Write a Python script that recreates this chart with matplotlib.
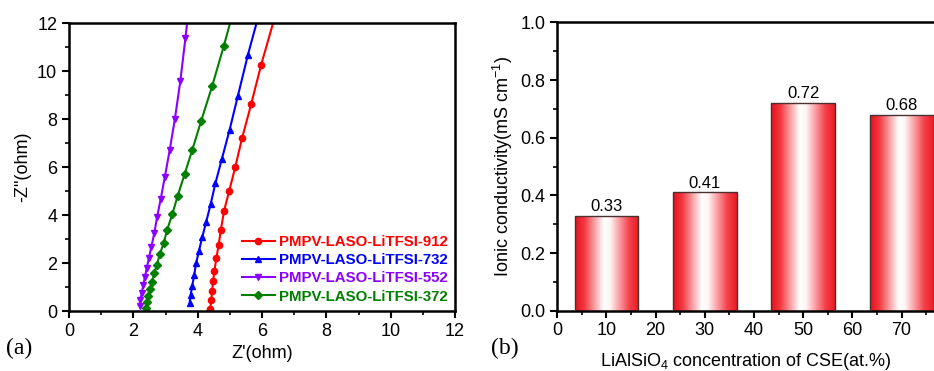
import numpy as np
import matplotlib
matplotlib.use("Agg")
import matplotlib.pyplot as plt
from matplotlib.colors import LinearSegmentedColormap

plt.rcParams['font.family'] = ['Liberation Sans', 'DejaVu Sans']
plt.rcParams['mathtext.fontset'] = 'custom'
plt.rcParams['mathtext.rm'] = 'Liberation Sans'

# (a) Nyquist data
red_x = [4.39, 4.42, 4.45, 4.48, 4.52, 4.58, 4.65, 4.72, 4.82, 4.98, 5.17, 5.38, 5.66, 5.97, 6.45]
red_y = [0.07, 0.46, 0.85, 1.26, 1.68, 2.19, 2.75, 3.38, 4.18, 5.01, 6.01, 7.21, 8.61, 10.25, 12.5]
blue_x = [3.75, 3.78, 3.83, 3.89, 3.95, 4.04, 4.14, 4.26, 4.40, 4.55, 4.75, 4.99, 5.25, 5.56, 5.95]
blue_y = [0.32, 0.67, 1.04, 1.50, 1.99, 2.51, 3.07, 3.69, 4.44, 5.32, 6.33, 7.54, 8.97, 10.67, 12.6]
purple_x = [2.22, 2.22, 2.26, 2.31, 2.36, 2.42, 2.48, 2.56, 2.65, 2.74, 2.85, 2.98, 3.13, 3.29, 3.46, 3.62, 3.78]
purple_y = [0.21, 0.46, 0.76, 1.07, 1.43, 1.81, 2.19, 2.68, 3.24, 3.93, 4.67, 5.60, 6.71, 8.00, 9.58, 11.39, 13.3]
green_x = [2.40, 2.43, 2.47, 2.52, 2.58, 2.65, 2.73, 2.82, 2.94, 3.05, 3.21, 3.38, 3.59, 3.83, 4.11, 4.45, 4.81, 5.15]
green_y = [0.11, 0.36, 0.64, 0.92, 1.22, 1.57, 1.92, 2.36, 2.82, 3.38, 4.03, 4.81, 5.69, 6.71, 7.93, 9.375, 11.04, 12.7]
labels_a = ['PMPV-LASO-LiTFSI-912', 'PMPV-LASO-LiTFSI-732',
            'PMPV-LASO-LiTFSI-552', 'PMPV-LASO-LiTFSI-372']

# (b) conductivity data
conc = [10, 30, 50, 70]
cond = [0.33, 0.41, 0.72, 0.68]
cond_labels = ['0.33', '0.41', '0.72', '0.68']

fig = plt.figure(figsize=(9.34, 3.71), dpi=100)

# ---- panel (a)
ax1 = fig.add_axes([0.0739, 0.1617, 0.4133, 0.776])
series = [(red_x, red_y, '#ff0000', 'o'), (blue_x, blue_y, '#0000ff', '^'),
          (purple_x, purple_y, '#8b00ff', 'v'), (green_x, green_y, '#007f00', 'D')]
for (x, y, c, m), lab in zip(series, labels_a):
    ms = 4.5 if m != 'D' else 3.8
    ax1.plot(x, y, color=c, marker=m, markersize=ms, linewidth=1.5, label=lab)
ax1.set_xlim(0, 12)
ax1.set_ylim(0, 12)
ax1.set_xticks(np.arange(0, 13, 2))
ax1.set_yticks(np.arange(0, 13, 2))
ax1.set_xticks(np.arange(0, 13, 1), minor=True)
ax1.set_yticks(np.arange(0, 13, 1), minor=True)
ax1.tick_params(which='major', direction='out', length=5, width=1.5, labelsize=13)
ax1.tick_params(which='minor', direction='out', length=3, width=1.2)
for s in ax1.spines.values():
    s.set_linewidth(1.8)
ax1.set_xlabel("Z'(ohm)", fontsize=13, labelpad=4)
ax1.set_ylabel('-Z"(ohm)', fontsize=13, labelpad=4)
leg = ax1.legend(loc='lower right', frameon=False, handlelength=2.2,
                 labelspacing=0.28, handletextpad=0.25, borderaxespad=0.1,
                 prop={'weight': 'bold', 'size': 10.8})
for t, (_, _, c, _) in zip(leg.get_texts(), series):
    t.set_color(c)
fig.text(0.006, 0.045, '(a)', fontsize=17, family='Liberation Serif')

# ---- panel (b)
ax2 = fig.add_axes([0.5967, 0.1626, 0.4033, 0.777])
cmap = LinearSegmentedColormap.from_list('rw', [(0, '#e8101a'), (0.15, '#f23a42'), (0.45, '#ffffff'),
                                                (0.55, '#fff4f4'), (0.85, '#f5404a'), (1, '#ea1a22')])
grad = np.linspace(0, 1, 256).reshape(1, -1)
bars = ax2.bar(conc, cond, width=13, facecolor='none', edgecolor='#4a3030', linewidth=1.0, zorder=3)
for b in bars:
    x0, y0 = b.get_x(), b.get_y()
    im = ax2.imshow(grad, cmap=cmap, extent=[x0, x0 + b.get_width(), y0, y0 + b.get_height()],
                    aspect='auto', zorder=2)
    im.set_clip_path(b)
for xc, v, lab in zip(conc, cond, cond_labels):
    ax2.text(xc, v + 0.006, lab, ha='center', va='bottom', fontsize=12)
ax2.set_xlim(0, 76.6)
ax2.set_ylim(0, 1.0)
ax2.set_xticks(np.arange(0, 71, 10))
ax2.set_xticks(np.arange(5, 76, 10), minor=True)
ax2.set_yticks(np.arange(0, 1.01, 0.2))
ax2.set_yticks(np.arange(0, 1.01, 0.1), minor=True)
ax2.yaxis.set_major_formatter(matplotlib.ticker.FormatStrFormatter('%.1f'))
ax2.tick_params(which='major', direction='out', length=5, width=1.5, labelsize=13)
ax2.tick_params(which='minor', direction='out', length=3, width=1.2)
for s in ax2.spines.values():
    s.set_linewidth(1.8)
ax2.spines['right'].set_visible(False)
ax2.set_xlabel('LiAlSiO$_4$ concentration of CSE(at.%)', fontsize=13, labelpad=8)
ax2.set_ylabel('Ionic conductivity(mS cm$^{-1}$)', fontsize=13, labelpad=4)
fig.text(0.526, 0.045, '(b)', fontsize=17, family='Liberation Serif')

fig.savefig('out.png', dpi=100)
